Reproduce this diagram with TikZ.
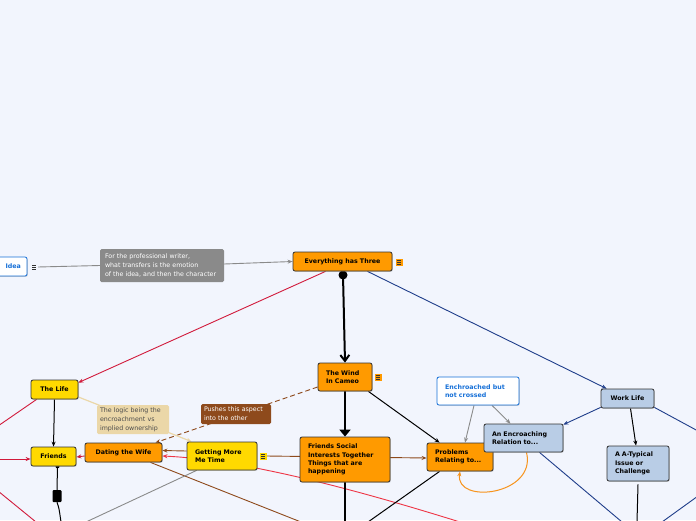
\documentclass[tikz,border=0pt]{standalone}
\usepackage{fontspec}
\setmainfont{DejaVu Sans}
\usetikzlibrary{arrows.meta,shadows,calc}
\definecolor{bgc}{HTML}{F2F5FD}
\definecolor{orng}{HTML}{FF9A00}
\definecolor{yel}{HTML}{FFD900}
\definecolor{lblue}{HTML}{B9CDE6}
\definecolor{redl}{HTML}{D11A3B}
\definecolor{redb}{HTML}{EE3545}
\definecolor{bluel}{HTML}{1F3D8A}
\definecolor{brownl}{HTML}{8E4A1C}
\definecolor{tanc}{HTML}{EBD7A8}
\definecolor{greyn}{HTML}{8A8A8A}
\definecolor{bluet}{HTML}{1670D8}
\definecolor{orl}{HTML}{F7941D}
\pgfdeclarelayer{bglayer}
\pgfdeclarelayer{edgelayer}
\pgfsetlayers{bglayer,edgelayer,main}
\tikzset{
  box/.style={draw=black!80, line width=0.8pt, rounded corners=2pt, inner sep=0pt,
    font=\bfseries\fontsize{6.3}{8.3}\selectfont,
    drop shadow={opacity=0.35, shadow xshift=0.8pt, shadow yshift=-0.8pt}},
  obox/.style={box, fill=orng},
  ybox/.style={box, fill=yel},
  bbox/.style={box, fill=lblue},
  lft/.style={align=left, inner xsep=8pt},
  note/.style={rounded corners=1.5pt, inner sep=0pt, align=left,
    font=\fontsize{6.3}{8.9}\selectfont},
  icon/.style={minimum width=7pt, minimum height=7pt, inner sep=0pt, fill=#1,
    path picture={\foreach \yy in {-1.8pt,0pt,1.8pt}
      \draw[black!80, line width=0.6pt] ([xshift=1.6pt,yshift=\yy]path picture bounding box.west) -- ([xshift=-1.6pt,yshift=\yy]path picture bounding box.east);}},
  tip/.style={-{Stealth[length=5pt,width=4pt]}},
  redc/.style={draw=redl, line width=0.9pt},
  bluec/.style={draw=bluel, line width=0.9pt},
  brownc/.style={draw=brownl, line width=0.9pt},
  greyc/.style={draw=greyn, line width=0.9pt},
  blackc/.style={draw=black, line width=1pt},
}
\begin{document}
\begin{tikzpicture}[x=1pt,y=-1pt]
\begin{pgfonlayer}{bglayer}
\fill[bgc] (0,0) rectangle (696,520);
\end{pgfonlayer}
\useasboundingbox (0,0) rectangle (696,520);

% nodes
\node[box, fill=white, draw=bluet, text=bluet, minimum width=54pt, minimum height=19pt, align=right, text width=42pt, inner xsep=6pt] (idea) at (0,266.5) {Idea};
\node[icon=bgc] (ideaicon) at (34,267) {};
\node[note, fill=greyn, text=white, minimum width=124pt, minimum height=33pt, text width=114pt, inner xsep=5pt] (gnote) at (162,265.5) {For the professional writer,\\what transfers is the emotion\\of the idea, and then the character};
\node[obox, minimum width=99pt, minimum height=19pt] (every) at (342.5,261.5) {Everything has Three};
\node[icon=orng] (everyicon) at (399,262) {};
\node[obox, lft, text width=38pt, minimum height=28pt] (wind) at (345,377) {The Wind\\In Cameo};
\node[icon=orng] (windicon) at (378,377) {};
\node[ybox, minimum width=47pt, minimum height=19pt] (life) at (54.5,389.5) {The Life};
\node[ybox, minimum width=45pt, minimum height=19pt] (friends) at (53.5,456.5) {Friends};
\node[obox, minimum width=77pt, minimum height=19pt] (dating) at (123.5,452.5) {Dating the Wife};
\node[ybox, lft, text width=54pt, minimum height=28pt] (getting) at (222,456) {Getting More\\Me Time};
\node[icon=yel] (gettingicon) at (263,456) {};
\node[obox, lft, text width=74pt, minimum height=45pt] (social) at (345,459.5) {Friends Social\\Interests Together\\Things that are\\happening};
\node[obox, lft, text width=50pt, minimum height=28pt] (problems) at (460,457) {Problems\\Relating to...};
\node[box, fill=white, draw=bluet, text=bluet, lft, text width=66pt, minimum height=28pt] (enchr) at (478,391) {Enchroached but\\not crossed};
\node[bbox, lft, text width=63pt, minimum height=28pt] (anenc) at (523.5,438) {An Encroaching\\Relation to...};
\node[bbox, minimum width=53pt, minimum height=19pt] (work) at (627.5,398.5) {Work Life};
\node[bbox, lft, text width=46pt, minimum height=35pt] (atyp) at (638,463.5) {A A-Typical\\Issue or\\Challenge};
\node[note, fill=tanc, text=black!70, minimum width=72pt, minimum height=29pt, text width=66pt, inner xsep=3pt] (tnote) at (133,419.5) {The logic being the\\encroachment vs\\implied ownership};
\node[note, fill=brownl, text=white, minimum width=70pt, minimum height=20pt, text width=64pt, inner xsep=3pt] (bnote) at (236,414) {Pushes this aspect\\into the other};
\node[fill=black, rounded corners=1pt, minimum width=9pt, minimum height=12pt, inner sep=0pt] (sq) at (57,496) {};

% off-picture ends
\coordinate (o1) at (-2,426);
\coordinate (o2) at (-2,459);
\coordinate (o3) at (-2,491);
\coordinate (o4) at (36,522);
\coordinate (o5) at (61,522);
\coordinate (o6) at (86,522);
\coordinate (o7) at (301,522);
\coordinate (o8) at (460,522);
\coordinate (o9) at (345,522);
\coordinate (o10) at (368,522);
\coordinate (o11) at (622,522);
\coordinate (o12) at (637,522);
\coordinate (o13) at (698,431);
\coordinate (o14) at (698,496);
\coordinate (o15) at (662,522);
\coordinate (dot) at (343,275);

\begin{pgfonlayer}{edgelayer}
\draw[greyc] (ideaicon.east) -- (gnote.west);
\draw[greyc, tip] ([yshift=1.5pt]gnote.east) -- (every.west);
\draw[redc, tip] ([xshift=-17pt]every.south) -- ([yshift=-3pt]life.north east);
\draw[bluec, tip] ([xshift=25pt]every.south) -- ([xshift=6pt]work.north west);
\draw[line width=2pt, -{Straight Barb[length=6pt,width=9pt]}] (dot) -- (wind.north);
\draw[blackc, tip] (life.south) -- (friends.north);
\draw[redc] ([xshift=6pt]life.south west) -- (o1);
\draw[redc, tip] (o2) -- ([yshift=-2.5pt]friends.west);
\draw[redc] (o3) -- (o4);
\draw[redc, tip] ([yshift=-3.5pt]dating.west) -- ([yshift=-0.5pt]friends.east);
\draw[draw=redb, line width=0.9pt, tip] (o8) .. controls (370,494) and (250,460) .. ([yshift=-3.5pt]dating.east);
\draw[brownc, tip] ([yshift=5pt]getting.west) -- ([yshift=2pt]dating.east);
\draw[brownc, tip] (gettingicon.east) -- ([yshift=-1pt]problems.west);
\draw[brownc] ([xshift=27pt]dating.south) -- (o7);
\draw[brownc, dashed, dash pattern=on 5pt off 3pt, tip] ([yshift=-10pt]wind.west) -- ([xshift=32pt]dating.north);
\draw[draw=tanc, line width=1.2pt, tip] ([yshift=-7.5pt]life.east) -- ([xshift=5pt]getting.north west);
\draw[greyc] ([xshift=10pt]getting.south west) -- (o6);
\fill ([xshift=4pt]friends.south) circle (2pt);
\draw[blackc] ([xshift=4pt]friends.south) -- (sq.north);
\draw[blackc] (sq.south) .. controls (59,508) .. (o5);
\draw[line width=2.4pt, -{Triangle[length=7pt,width=11pt]}] (wind.south) -- (social.north);
\draw[blackc, tip] ([xshift=-4pt]wind.south east) -- ([xshift=13pt]problems.north west);
\draw[line width=2pt] (social.south) -- (o9);
\draw[blackc] ([xshift=13pt]problems.south west) -- (o10);
\draw[draw=orl, line width=1pt, tip] ([xshift=3pt]anenc.south) .. controls (537,495) and (455,505) .. (problems.south);
\draw[greyc, tip] ([xshift=-4pt]enchr.south) -- ([xshift=5pt]problems.north);
\draw[greyc, tip] ([xshift=14pt]enchr.south) -- ([xshift=-13pt]anenc.north);
\draw[bluec, tip] ([yshift=1pt]work.south west) -- ([yshift=-1pt]anenc.north east);
\draw[blackc, tip] ([xshift=3pt]work.south) -- ([xshift=-2pt]atyp.north);
\draw[bluec] ([yshift=1pt]work.south east) -- (o13);
\draw[bluec] ([xshift=16pt]anenc.south) -- (o11);
\draw[blackc] ([yshift=-3pt]atyp.south) -- (o12);
\draw[bluec] (o14) -- (o15);
\fill (dot) circle (4.5pt);
\end{pgfonlayer}
\end{tikzpicture}
\end{document}
